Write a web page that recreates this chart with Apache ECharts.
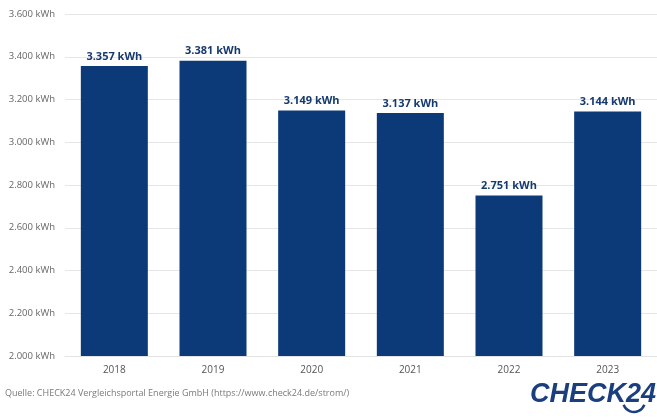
<!DOCTYPE html>
<html><head><meta charset="utf-8">
<script src="https://cdn.jsdelivr.net/npm/echarts@6/dist/echarts.min.js"></script>
<style>html,body{margin:0;padding:0;background:#fff}#c{width:657px;height:418px}</style>
</head><body><div id="c"></div>
<script>
const categories = ['2018','2019','2020','2021','2022','2023'];
const values = [3357, 3381, 3149, 3137, 2751, 3144];
const yTicks = [2000, 2200, 2400, 2600, 2800, 3000, 3200, 3400, 3600];
const sourceText = 'Quelle: CHECK24 Vergleichsportal Energie GmbH (https://www.check24.de/strom/)';

function fmt(v){ return String(v).replace(/\B(?=(\d{3})+(?!\d))/g,'.') + ' kWh'; }

const chart = echarts.init(document.getElementById('c'));
chart.setOption({
  animation:false,
  backgroundColor:'#fff',
  grid:{left:65, top:14, width:596, height:342, containLabel:false},
  xAxis:{type:'category', data:categories,
    axisLine:{show:true, lineStyle:{color:'#e3e3e3'}}, axisTick:{show:false},
    axisLabel:{color:'#555', fontSize:10, fontFamily:'Open Sans', margin:9}},
  yAxis:{type:'value', min:yTicks[0], max:yTicks[yTicks.length-1], interval:200,
    axisLine:{show:false}, axisTick:{show:false},
    splitLine:{lineStyle:{color:'#e6e6e6'}},
    axisLabel:{color:'#666', fontSize:9.5, fontFamily:'Open Sans', margin:10, formatter:fmt}},
  series:[{type:'bar', data:values, barWidth:67,
    itemStyle:{color:'#0c3a78'},
    label:{show:true, position:'top', distance:4, color:'#163a6e', fontWeight:'bold',
      fontSize:11, fontFamily:'Open Sans', formatter:p=>fmt(p.value)}}],
  graphic:[
    {type:'text', left:5, top:389, style:{text:sourceText, fill:'#7a7a7a', fontSize:9, fontFamily:'Open Sans'}},
    {type:'text', left:530, top:381, style:{text:'CHECK24', fill:'#1a3e7e', fontSize:27, fontWeight:'bold', fontStyle:'italic', fontFamily:'Liberation Sans'}},
    {type:'arc', shape:{cx:634, cy:401, r:11, startAngle:0.35, endAngle:Math.PI-0.35}, style:{stroke:'#1a3e7e', lineWidth:2.5, fill:null}}
  ]
});
</script></body></html>
